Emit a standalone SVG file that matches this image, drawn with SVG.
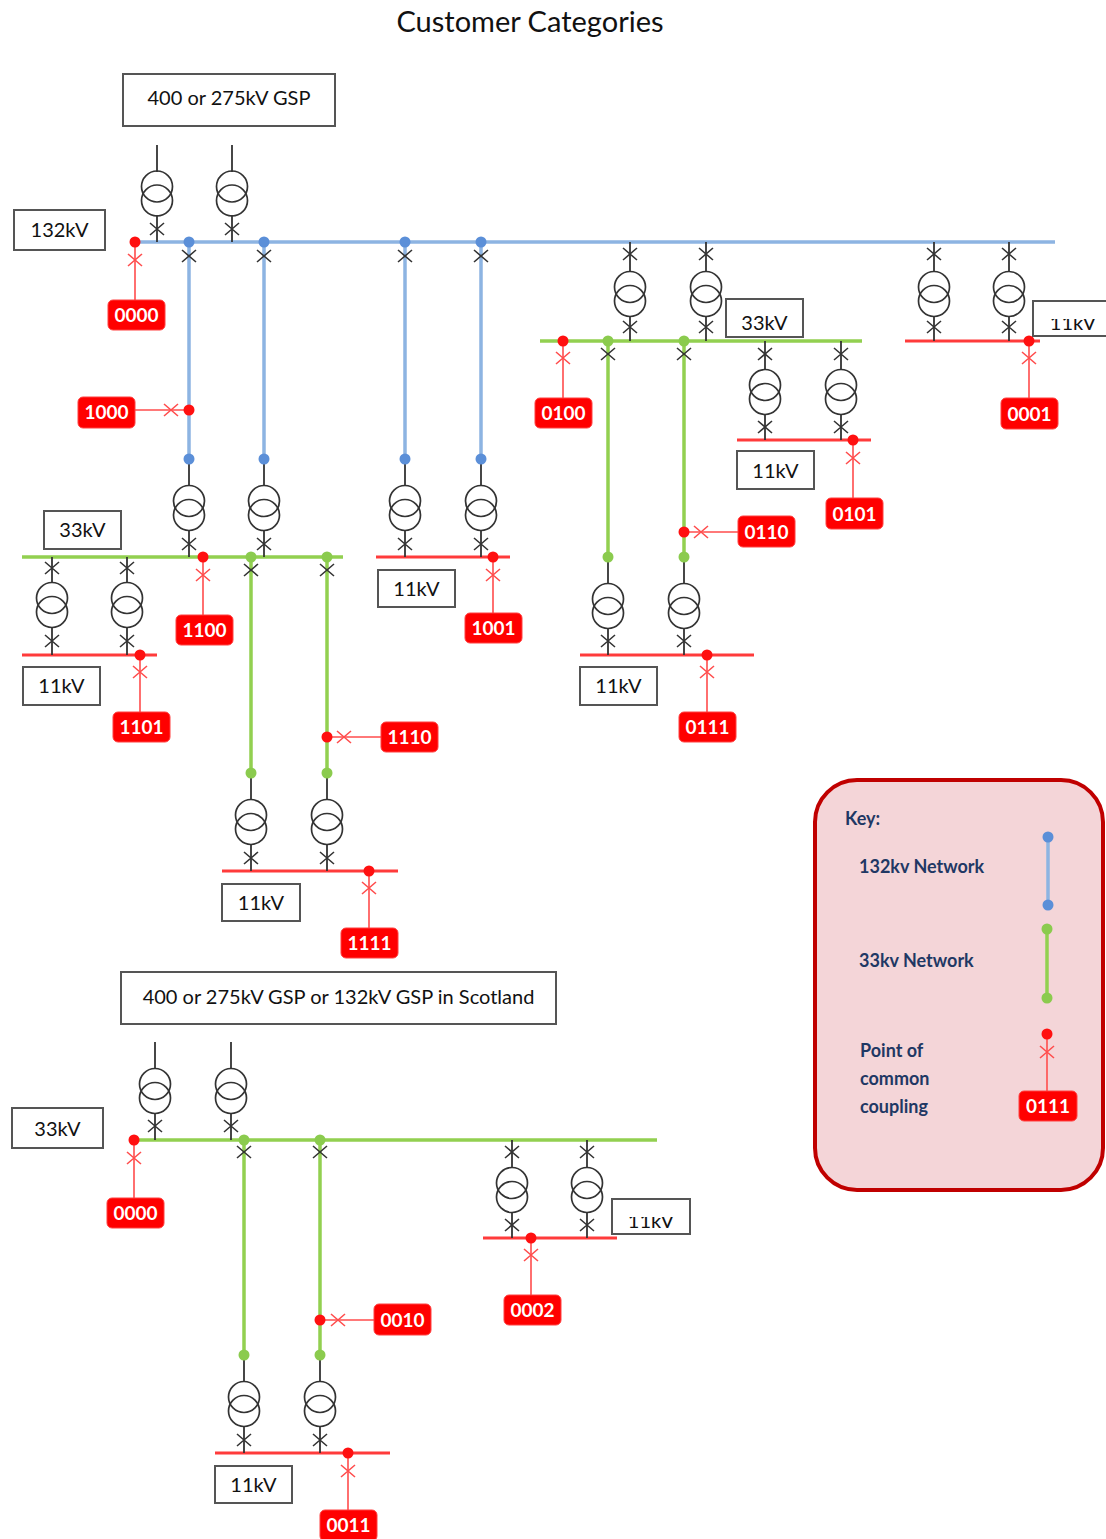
<svg xmlns="http://www.w3.org/2000/svg" xmlns:xlink="http://www.w3.org/1999/xlink" width="1106" height="1539" viewBox="0 0 1106 1539">
<style>
  .wire{stroke:#333;stroke-width:1.8;fill:none}
  .blue{stroke:#8db4e2;stroke-width:3.5;fill:none}
  .green{stroke:#92d050;stroke-width:3.5;fill:none}
  .rbus{stroke:#ff3b3b;stroke-width:3;fill:none}
  .rthin{stroke:#ff4d4d;stroke-width:1.6;fill:none}
  .bdot{fill:#5b8fd8}
  .gdot{fill:#8bcb4e}
  .rdot{fill:#ff1010}
  .box{fill:#fff;stroke:#555;stroke-width:2}
  .lblbox{fill:#ff0000;stroke:#ff4040;stroke-width:1}
  .t{font-family:Lato,"Open Sans","Liberation Sans",sans-serif;font-size:20px;fill:#111;text-anchor:middle}
  .lt{font-family:Lato,"Open Sans","Liberation Sans",sans-serif;font-size:19px;font-weight:bold;fill:#fff;text-anchor:middle}
  .kt{font-family:Lato,"Open Sans","Liberation Sans",sans-serif;font-size:18px;font-weight:bold;fill:#1f3864}
  .title{font-family:Lato,"Open Sans","Liberation Sans",sans-serif;font-size:29px;fill:#111;text-anchor:middle}
</style>
<defs>
  <g id="tx" fill="none" stroke="#333" stroke-width="1.7">
    <circle cx="0" cy="-7" r="15.5"/>
    <circle cx="0" cy="7" r="15.5"/>
  </g>
  <path id="xb" d="M-7,-6L7,6M-7,6L7,-6" stroke="#333" stroke-width="1.6" fill="none"/>
  <path id="xr" d="M-7,-6L7,6M-7,6L7,-6" stroke="#ff4d4d" stroke-width="1.6" fill="none"/>
  <clipPath id="clipA"><rect x="1030" y="319" width="80" height="18"/></clipPath>
  <clipPath id="clipB"><rect x="610" y="1217" width="82" height="18"/></clipPath>
</defs>

<rect width="1106" height="1539" fill="#fff"/>

<text class="title" x="530" y="32">Customer Categories</text>

<!-- Key -->
<g id="key">
  <rect x="815" y="780" width="288" height="410" rx="42" fill="#f4d5d8" stroke="#c00000" stroke-width="4"/>
  <text class="kt" x="845" y="825">Key:</text>
  <text class="kt" x="859" y="873">132kv Network</text>
  <text class="kt" x="859" y="967">33kv Network</text>
  <text class="kt" x="860" y="1057">Point of</text>
  <text class="kt" x="860" y="1085">common</text>
  <text class="kt" x="860" y="1113">coupling</text>
  <path class="blue" d="M1048,837V905"/>
  <circle class="bdot" cx="1048" cy="837" r="5.5"/>
  <circle class="bdot" cx="1048" cy="905" r="5.5"/>
  <path class="green" d="M1047,929V998"/>
  <circle class="gdot" cx="1047" cy="929" r="5.5"/>
  <circle class="gdot" cx="1047" cy="998" r="5.5"/>
  <path class="rthin" d="M1047,1034V1092"/>
  <use href="#xr" x="1047" y="1052"/>
  <circle class="rdot" cx="1047" cy="1034" r="5.5"/>
  <rect class="lblbox" x="1019" y="1091" width="58" height="30" rx="5"/>
  <text class="lt" x="1048" y="1113">0111</text>
</g>

<!-- Connectors -->
<g id="connectors">
  <path class="blue" d="M135,242H1055M189,242V459M264,242V459M405,242V459M481,242V459"/>
  <path class="green" d="M22,557H343M251,557V773M327,557V773"/>
  <path class="green" d="M540,341H862M608,341V557M684,341V557"/>
  <path class="green" d="M134,1140H657M244,1140V1355M320,1140V1355"/>
  <path class="rbus" d="M22,655H157M222,871H398M376,557H510M580,655H754M737,440H871M905,341H1040M215,1453H390M483,1238H617"/>
  <path class="wire" d="
    M157,145V172M157,215V242M232,145V172M232,215V242
    M189,459V486M189,530V557M264,459V486M264,530V557
    M405,459V486M405,530V557M481,459V486M481,530V557
    M52,557V583M52,627V655M127,557V583M127,627V655
    M251,773V800M251,844V871M327,773V800M327,844V871
    M630,242V272M630,316V341M706,242V272M706,316V341
    M934,242V272M934,316V341M1009,242V272M1009,316V341
    M608,557V584M608,628V655M684,557V584M684,628V655
    M765,341V370M765,414V440M841,341V370M841,414V440
    M155,1042V1069M155,1113V1140M231,1042V1069M231,1113V1140
    M244,1355V1382M244,1426V1453M320,1355V1382M320,1426V1453
    M512,1140V1168M512,1212V1238M587,1140V1168M587,1212V1238"/>
  <path class="rthin" d="
    M135,242V300M189,410H135M203,557V615M140,655V712M327,737H381M369,871V928
    M493,557V613M563,341V398M853,440V498M684,532H738M707,655V712M1029,341V398
    M134,1140V1198M320,1320H374M531,1238V1295M348,1453V1510"/>
</g>

<!-- Transformers -->
<g id="transformers">
  <use href="#tx" x="157" y="193.5"/><use href="#tx" x="232" y="193.5"/>
  <use href="#tx" x="189" y="508"/><use href="#tx" x="264" y="508"/>
  <use href="#tx" x="405" y="508"/><use href="#tx" x="481" y="508"/>
  <use href="#tx" x="52" y="605"/><use href="#tx" x="127" y="605"/>
  <use href="#tx" x="251" y="822"/><use href="#tx" x="327" y="822"/>
  <use href="#tx" x="630" y="294"/><use href="#tx" x="706" y="294"/>
  <use href="#tx" x="934" y="294"/><use href="#tx" x="1009" y="294"/>
  <use href="#tx" x="608" y="606"/><use href="#tx" x="684" y="606"/>
  <use href="#tx" x="765" y="392"/><use href="#tx" x="841" y="392"/>
  <use href="#tx" x="155" y="1091"/><use href="#tx" x="231" y="1091"/>
  <use href="#tx" x="244" y="1404"/><use href="#tx" x="320" y="1404"/>
  <use href="#tx" x="512" y="1190"/><use href="#tx" x="587" y="1190"/>
</g>

<!-- Breakers -->
<g id="breakers">
  <use href="#xb" x="157" y="229"/><use href="#xb" x="232" y="229"/>
  <use href="#xb" x="189" y="256"/><use href="#xb" x="264" y="256"/><use href="#xb" x="405" y="256"/><use href="#xb" x="481" y="256"/>
  <use href="#xb" x="189" y="544"/><use href="#xb" x="264" y="544"/><use href="#xb" x="405" y="544"/><use href="#xb" x="481" y="544"/>
  <use href="#xb" x="52" y="568"/><use href="#xb" x="127" y="568"/><use href="#xb" x="52" y="641"/><use href="#xb" x="127" y="641"/>
  <use href="#xb" x="251" y="570"/><use href="#xb" x="327" y="570"/><use href="#xb" x="251" y="858"/><use href="#xb" x="327" y="858"/>
  <use href="#xb" x="630" y="254"/><use href="#xb" x="706" y="254"/><use href="#xb" x="630" y="327"/><use href="#xb" x="706" y="327"/>
  <use href="#xb" x="934" y="254"/><use href="#xb" x="1009" y="254"/><use href="#xb" x="934" y="327"/><use href="#xb" x="1009" y="327"/>
  <use href="#xb" x="608" y="354"/><use href="#xb" x="684" y="354"/><use href="#xb" x="608" y="641"/><use href="#xb" x="684" y="641"/>
  <use href="#xb" x="765" y="354"/><use href="#xb" x="841" y="354"/><use href="#xb" x="765" y="427"/><use href="#xb" x="841" y="427"/>
  <use href="#xb" x="155" y="1126"/><use href="#xb" x="231" y="1126"/>
  <use href="#xb" x="244" y="1152"/><use href="#xb" x="320" y="1152"/><use href="#xb" x="244" y="1440"/><use href="#xb" x="320" y="1440"/>
  <use href="#xb" x="512" y="1152"/><use href="#xb" x="587" y="1152"/><use href="#xb" x="512" y="1225"/><use href="#xb" x="587" y="1225"/>
  <use href="#xr" x="135" y="260"/><use href="#xr" x="171" y="410"/><use href="#xr" x="203" y="575"/>
  <use href="#xr" x="140" y="672"/><use href="#xr" x="344" y="737"/><use href="#xr" x="369" y="888"/>
  <use href="#xr" x="493" y="575"/><use href="#xr" x="563" y="358"/><use href="#xr" x="853" y="458"/>
  <use href="#xr" x="701" y="532"/><use href="#xr" x="707" y="672"/><use href="#xr" x="1029" y="358"/>
  <use href="#xr" x="134" y="1158"/><use href="#xr" x="338" y="1320"/><use href="#xr" x="531" y="1255"/>
  <use href="#xr" x="348" y="1471"/>
</g>

<!-- Dots -->
<g id="dots">
  <circle class="bdot" cx="189" cy="242" r="5.5"/><circle class="bdot" cx="264" cy="242" r="5.5"/>
  <circle class="bdot" cx="405" cy="242" r="5.5"/><circle class="bdot" cx="481" cy="242" r="5.5"/>
  <circle class="bdot" cx="189" cy="459" r="5.5"/><circle class="bdot" cx="264" cy="459" r="5.5"/>
  <circle class="bdot" cx="405" cy="459" r="5.5"/><circle class="bdot" cx="481" cy="459" r="5.5"/>
  <circle class="gdot" cx="251" cy="557" r="5.5"/><circle class="gdot" cx="327" cy="557" r="5.5"/>
  <circle class="gdot" cx="251" cy="773" r="5.5"/><circle class="gdot" cx="327" cy="773" r="5.5"/>
  <circle class="gdot" cx="608" cy="341" r="5.5"/><circle class="gdot" cx="684" cy="341" r="5.5"/>
  <circle class="gdot" cx="608" cy="557" r="5.5"/><circle class="gdot" cx="684" cy="557" r="5.5"/>
  <circle class="gdot" cx="244" cy="1140" r="5.5"/><circle class="gdot" cx="320" cy="1140" r="5.5"/>
  <circle class="gdot" cx="244" cy="1355" r="5.5"/><circle class="gdot" cx="320" cy="1355" r="5.5"/>
  <circle class="rdot" cx="135" cy="242" r="5.5"/><circle class="rdot" cx="189" cy="410" r="5.5"/>
  <circle class="rdot" cx="203" cy="557" r="5.5"/><circle class="rdot" cx="140" cy="655" r="5.5"/>
  <circle class="rdot" cx="327" cy="737" r="5.5"/><circle class="rdot" cx="369" cy="871" r="5.5"/>
  <circle class="rdot" cx="493" cy="557" r="5.5"/><circle class="rdot" cx="563" cy="341" r="5.5"/>
  <circle class="rdot" cx="853" cy="440" r="5.5"/><circle class="rdot" cx="684" cy="532" r="5.5"/>
  <circle class="rdot" cx="707" cy="655" r="5.5"/><circle class="rdot" cx="1029" cy="341" r="5.5"/>
  <circle class="rdot" cx="134" cy="1140" r="5.5"/><circle class="rdot" cx="320" cy="1320" r="5.5"/>
  <circle class="rdot" cx="531" cy="1238" r="5.5"/><circle class="rdot" cx="348" cy="1453" r="5.5"/>
</g>

<!-- Voltage / source boxes -->
<g id="gsp-top"><rect class="box" x="123" y="74" width="212" height="52"/><text class="t" x="229" y="105">400 or 275kV GSP</text></g>
<g id="v132"><rect class="box" x="14" y="210" width="91" height="40"/><text class="t" x="59.5" y="237">132kV</text></g>
<g id="v33-left"><rect class="box" x="44" y="511" width="77" height="38"/><text class="t" x="82.5" y="537">33kV</text></g>
<g id="v11-a"><rect class="box" x="23" y="667" width="77" height="38"/><text class="t" x="61.5" y="693">11kV</text></g>
<g id="v11-b"><rect class="box" x="222" y="884" width="78" height="37"/><text class="t" x="261" y="910">11kV</text></g>
<g id="v11-c"><rect class="box" x="378" y="570" width="77" height="37"/><text class="t" x="416.5" y="596">11kV</text></g>
<g id="v11-d"><rect class="box" x="580" y="667" width="77" height="38"/><text class="t" x="618.5" y="693">11kV</text></g>
<g id="v33-right"><rect class="box" x="726" y="299" width="77" height="38"/><text class="t" x="764.5" y="330">33kV</text></g>
<g id="v11-e"><rect class="box" x="737" y="451" width="77" height="38"/><text class="t" x="775.5" y="478">11kV</text></g>
<g id="v11-f"><rect class="box" x="1033" y="301" width="80" height="35"/><text class="t" x="1073" y="330" clip-path="url(#clipA)">11kV</text></g>
<g id="gsp-bottom"><rect class="box" x="121" y="972" width="435" height="52"/><text class="t" x="338.5" y="1004">400 or 275kV GSP or 132kV GSP in Scotland</text></g>
<g id="v33-bottom"><rect class="box" x="12" y="1108" width="91" height="40"/><text class="t" x="57.5" y="1136">33kV</text></g>
<g id="v11-g"><rect class="box" x="215" y="1466" width="77" height="37"/><text class="t" x="253.5" y="1492">11kV</text></g>
<g id="v11-h"><rect class="box" x="612" y="1199" width="78" height="35"/><text class="t" x="651" y="1228" clip-path="url(#clipB)">11kV</text></g>

<!-- PCC labels -->
<g id="l0000a"><rect class="lblbox" x="108" y="300" width="57" height="30" rx="5"/><text class="lt" x="136.5" y="322">0000</text></g>
<g id="l1000"><rect class="lblbox" x="78" y="397" width="57" height="31" rx="5"/><text class="lt" x="106.5" y="419">1000</text></g>
<g id="l1100"><rect class="lblbox" x="176" y="615" width="57" height="30" rx="5"/><text class="lt" x="204.5" y="637">1100</text></g>
<g id="l1101"><rect class="lblbox" x="113" y="712" width="57" height="30" rx="5"/><text class="lt" x="141.5" y="734">1101</text></g>
<g id="l1110"><rect class="lblbox" x="381" y="722" width="57" height="30" rx="5"/><text class="lt" x="409.5" y="744">1110</text></g>
<g id="l1111"><rect class="lblbox" x="341" y="928" width="57" height="30" rx="5"/><text class="lt" x="369.5" y="950">1111</text></g>
<g id="l1001"><rect class="lblbox" x="465" y="613" width="57" height="30" rx="5"/><text class="lt" x="493.5" y="635">1001</text></g>
<g id="l0100"><rect class="lblbox" x="535" y="398" width="57" height="30" rx="5"/><text class="lt" x="563.5" y="420">0100</text></g>
<g id="l0101"><rect class="lblbox" x="826" y="498" width="57" height="31" rx="5"/><text class="lt" x="854.5" y="521">0101</text></g>
<g id="l0110"><rect class="lblbox" x="738" y="516" width="57" height="31" rx="5"/><text class="lt" x="766.5" y="539">0110</text></g>
<g id="l0111"><rect class="lblbox" x="679" y="712" width="57" height="30" rx="5"/><text class="lt" x="707.5" y="734">0111</text></g>
<g id="l0001"><rect class="lblbox" x="1001" y="398" width="57" height="31" rx="5"/><text class="lt" x="1029.5" y="421">0001</text></g>
<g id="l0000b"><rect class="lblbox" x="107" y="1198" width="57" height="30" rx="5"/><text class="lt" x="135.5" y="1220">0000</text></g>
<g id="l0010"><rect class="lblbox" x="374" y="1304" width="57" height="31" rx="5"/><text class="lt" x="402.5" y="1327">0010</text></g>
<g id="l0002"><rect class="lblbox" x="504" y="1295" width="57" height="30" rx="5"/><text class="lt" x="532.5" y="1317">0002</text></g>
<g id="l0011"><rect class="lblbox" x="320" y="1510" width="57" height="31" rx="5"/><text class="lt" x="348.5" y="1532">0011</text></g>
</svg>
